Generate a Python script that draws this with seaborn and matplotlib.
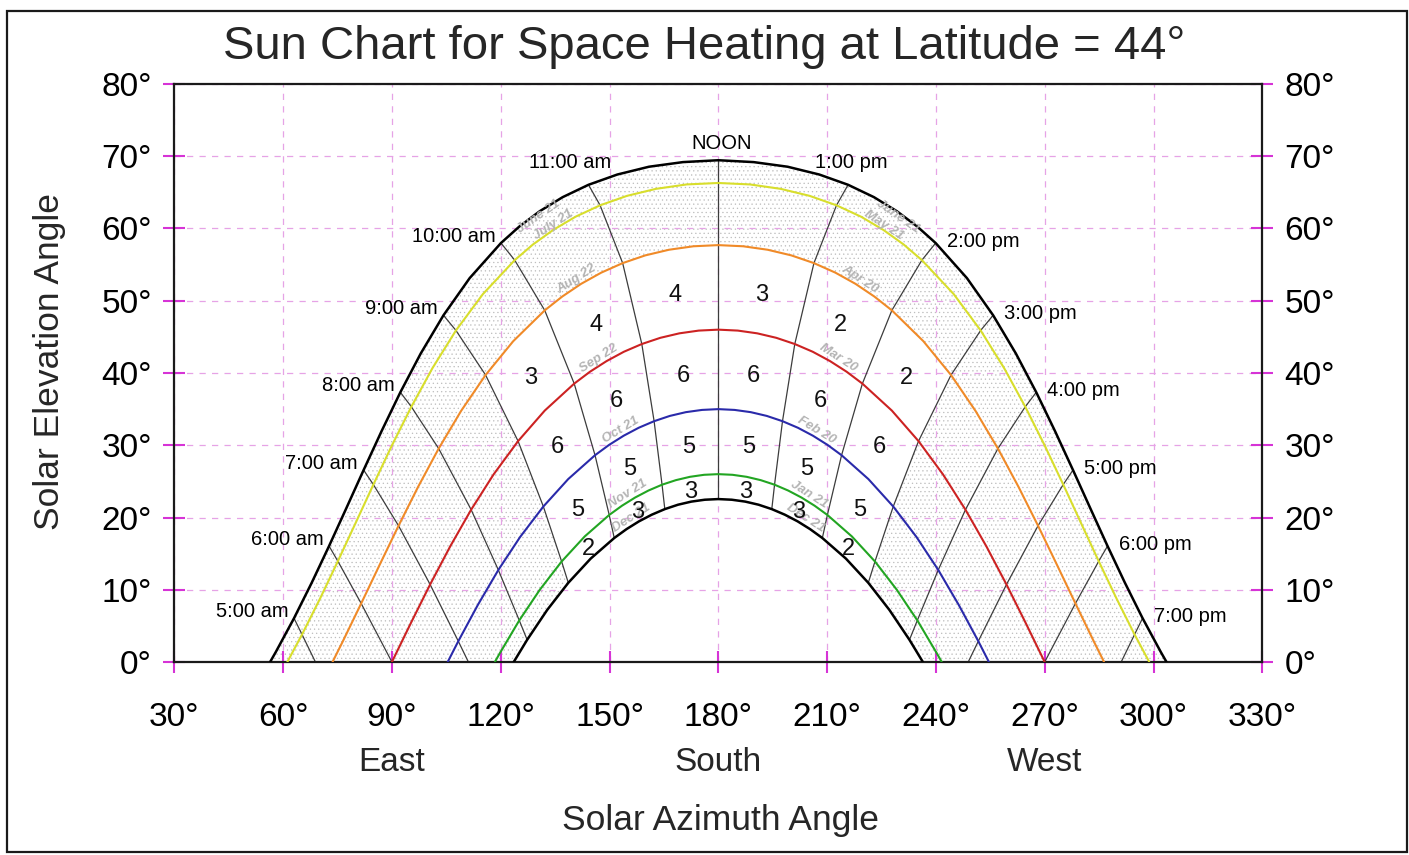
import numpy as np
import pandas as pd
import matplotlib
matplotlib.use('Agg')
import matplotlib.pyplot as plt
import matplotlib.transforms as mtransforms
from matplotlib.patches import Rectangle
import seaborn as sns

sns.set_theme(style='white')
plt.rcParams['font.family'] = ['Liberation Sans', 'DejaVu Sans']
plt.rcParams['hatch.linewidth'] = 0.4

N = None

# solar time (hours): half hours, quarter hours around noon
times = [4.5, 5.0, 5.5, 6.0, 6.5, 7.0, 7.5, 8.0, 8.5, 9.0, 9.5,
         10.0, 10.25, 10.5, 10.75, 11.0, 11.25, 11.5, 11.75, 12.0,
         12.25, 12.5, 12.75, 13.0, 13.25, 13.5, 13.75, 14.0,
         14.5, 15.0, 15.5, 16.0, 16.5, 17.0, 17.5, 18.0, 18.5, 19.0, 19.5]

# sun position (azimuth, elevation) for each date curve
az_jun = [57.97, 63.01, 67.89, 72.67, 77.41, 82.20, 87.14, 92.33, 97.95, 104.22, 111.44,
          120.07, 125.11, 130.75, 137.09, 144.21, 152.15, 160.89, 170.26, 180.0,
          189.74, 199.11, 207.85, 215.79, 222.91, 229.25, 234.89, 239.93,
          248.56, 255.78, 262.05, 267.67, 272.86, 277.80, 282.59, 287.33, 292.11, 296.99, 302.03]
el_jun = [1.37, 6.06, 10.97, 16.05, 21.26, 26.57, 31.94, 37.33, 42.70, 47.99, 53.13,
          57.99, 60.26, 62.39, 64.34, 66.05, 67.47, 68.55, 69.19, 69.45,
          69.19, 68.55, 67.47, 66.05, 64.34, 62.39, 60.26, 57.99,
          53.13, 47.99, 42.70, 37.33, 31.94, 26.57, 21.26, 16.05, 10.97, 6.06, 1.37]

az_jul = [N, 65.22, 70.21, 75.10, 79.97, 84.89, 89.98, 95.36, 101.18, 107.66, 115.09,
          123.86, 128.90, 134.47, 140.63, 147.41, 154.83, 162.83, 171.29, 180.0,
          188.71, 197.17, 205.17, 212.59, 219.37, 225.53, 231.10, 236.14,
          244.91, 252.34, 258.82, 264.64, 270.02, 275.11, 280.03, 284.90, 289.79, 294.78, N]
el_jul = [N, 3.81, 8.80, 13.95, 19.21, 24.56, 29.95, 35.33, 40.67, 45.89, 50.92,
          55.62, 57.79, 59.80, 61.63, 63.21, 64.52, 65.49, 66.10, 66.30,
          66.10, 65.49, 64.52, 63.21, 61.63, 59.80, 57.79, 55.62,
          50.92, 45.89, 40.67, 35.33, 29.95, 24.56, 19.21, 13.95, 8.80, 3.81, N]

az_aug = [N, N, 76.41, 81.53, 86.63, 91.83, 97.21, 102.90, 109.05, 115.83, 123.45,
          132.14, 136.99, 142.17, 147.72, 153.63, 159.87, 166.40, 173.15, 180.0,
          186.85, 193.60, 200.13, 206.37, 212.28, 217.83, 223.01, 227.86,
          236.55, 244.17, 250.95, 257.10, 262.79, 268.17, 273.37, 278.47, 283.59, N, N]
el_aug = [N, N, 2.80, 8.10, 13.46, 18.86, 24.23, 29.54, 34.73, 39.72, 44.40,
          48.67, 50.59, 52.34, 53.89, 55.21, 56.28, 57.06, 57.54, 57.70,
          57.54, 57.06, 56.28, 55.21, 53.89, 52.34, 50.59, 48.67,
          44.40, 39.72, 34.73, 29.54, 24.23, 18.86, 13.46, 8.10, 2.80, N, N]

az_sep = [N, N, N, N, 95.23, 100.54, 106.05, 111.85, 118.05, 124.79, 132.15,
          140.27, 144.63, 149.20, 153.96, 158.91, 164.02, 169.27, 174.61, 180.0,
          185.39, 190.73, 195.98, 201.09, 206.04, 210.80, 215.37, 219.73,
          227.85, 235.21, 241.95, 248.15, 253.95, 259.46, 264.77, N, N, N, N]
el_sep = [N, N, N, N, 5.39, 10.73, 15.98, 21.08, 25.97, 30.57, 34.80,
          38.53, 40.18, 41.65, 42.94, 44.01, 44.87, 45.49, 45.87, 46.00,
          45.87, 45.49, 44.87, 44.01, 42.94, 41.65, 40.18, 38.53,
          34.80, 30.57, 25.97, 21.08, 15.98, 10.73, 5.39, N, N, N, N]

az_oct = [N, N, N, N, N, 108.31, 113.71, 119.35, 125.35, 131.76, 138.62,
          146.01, 149.89, 153.91, 158.05, 162.30, 166.64, 171.05, 175.51, 180.0,
          184.49, 188.95, 193.36, 197.70, 201.95, 206.09, 210.11, 213.99,
          221.38, 228.24, 234.65, 240.65, 246.29, 251.69, N, N, N, N, N]
el_oct = [N, N, N, N, N, 2.88, 7.91, 12.74, 17.30, 21.52, 25.32,
          28.62, 30.05, 31.32, 32.42, 33.33, 34.06, 34.58, 34.89, 35.00,
          34.89, 34.58, 34.06, 33.33, 32.42, 31.32, 30.05, 28.62,
          25.32, 21.52, 17.30, 12.74, 7.91, 2.88, N, N, N, N, N]

az_nov = [N, N, N, N, N, N, 119.75, 125.12, 130.80, 136.80, 143.17,
          149.92, 153.44, 157.05, 160.73, 164.49, 168.31, 172.18, 176.08, 180.0,
          183.92, 187.82, 191.69, 195.51, 199.27, 202.95, 206.56, 210.08,
          216.83, 223.20, 229.20, 234.88, 240.25, N, N, N, N, N, N]
el_nov = [N, N, N, N, N, N, 1.21, 5.76, 10.01, 13.91, 17.38,
          20.35, 21.63, 22.76, 23.73, 24.54, 25.17, 25.63, 25.91, 26.00,
          25.91, 25.63, 25.17, 24.54, 23.73, 22.76, 21.63, 20.35,
          17.38, 13.91, 10.01, 5.76, 1.21, N, N, N, N, N, N]

az_dec = [N, N, N, N, N, N, N, 127.29, 132.81, 138.64, 144.81,
          151.31, 154.69, 158.14, 161.66, 165.25, 168.89, 172.57, 176.28, 180.0,
          183.72, 187.43, 191.11, 194.75, 198.34, 201.86, 205.31, 208.69,
          215.19, 221.36, 227.19, 232.71, N, N, N, N, N, N, N]
el_dec = [N, N, N, N, N, N, N, 3.07, 7.20, 10.96, 14.31,
          17.16, 18.39, 19.47, 20.39, 21.16, 21.77, 22.20, 22.46, 22.55,
          22.46, 22.20, 21.77, 21.16, 20.39, 19.47, 18.39, 17.16,
          14.31, 10.96, 7.20, 3.07, N, N, N, N, N, N, N]

curve_names = ['Jun 21', 'Jul 21 / May 21', 'Aug 22 / Apr 20', 'Sep 22 / Mar 20',
               'Oct 21 / Feb 20', 'Nov 21 / Jan 21', 'Dec 21']
curve_az = [az_jun, az_jul, az_aug, az_sep, az_oct, az_nov, az_dec]
curve_el = [el_jun, el_jul, el_aug, el_sep, el_oct, el_nov, el_dec]
sunrise_az = [56.41, 61.16, 73.63, 90.0, 105.38, 118.39, 123.59]
sunset_az = [303.59, 298.84, 286.37, 270.0, 254.62, 241.61, 236.41]

# hour lines and where they meet the horizon
hour_marks = [5, 6, 7, 8, 9, 10, 11, 12, 13, 14, 15, 16, 17, 18, 19]
hour_labels = ['5:00 am', '6:00 am', '7:00 am', '8:00 am', '9:00 am', '10:00 am', '11:00 am', 'NOON',
               '1:00 pm', '2:00 pm', '3:00 pm', '4:00 pm', '5:00 pm', '6:00 pm', '7:00 pm']
horizon_hours = [5, 6, 7, 17, 18, 19]
horizon_az = [68.91, 90.0, 111.09, 248.91, 270.0, 291.09]

# numbers in the cells (rows: Aug/Apr-Sep/Mar ... Nov/Jan-Dec; columns 9-10 am ... 2-3 pm)
cell_hours = [9, 10, 11, 12, 13, 14, 15]
cell_values = [[3, 4, 4, 3, 2, 2],
               [6, 6, 6, 6, 6, 6],
               [5, 5, 5, 5, 5, 5],
               [2, 3, 3, 3, 3, 2]]

left_date_labels = ['June 21', 'July 21', 'Aug 22', 'Sep 22', 'Oct 21', 'Nov 21', 'Dec 21']
right_date_labels = ['June 21', 'May 21', 'Apr 20', 'Mar 20', 'Feb 20', 'Jan 21', 'Dec 21']

curve_colors = ['black', '#d8de2c', '#f08a28', '#cc2222', '#2a2aaa', '#22a522', 'black']
curve_widths = [1.8, 1.5, 1.5, 1.5, 1.5, 1.5, 1.8]
grid_color = '#e6a3e6'
tick_color = '#d633d6'


def curve_points(i):
    pts = [(a, e) for a, e in zip(curve_az[i], curve_el[i]) if a is not None]
    xs = [sunrise_az[i]] + [p[0] for p in pts] + [sunset_az[i]]
    ys = [0.0] + [p[1] for p in pts] + [0.0]
    return np.array(xs), np.array(ys)


def hour_point(i, hour):
    k = times.index(float(hour))
    if curve_az[i][k] is None:
        return None
    return curve_az[i][k], curve_el[i][k]


def hour_line(hour, first=0, last=6):
    xs, ys = [], []
    for i in range(first, last + 1):
        p = hour_point(i, hour)
        if p is not None:
            xs.append(p[0])
            ys.append(p[1])
    if hour in horizon_hours and last == 6:
        xs.append(horizon_az[horizon_hours.index(hour)])
        ys.append(0.0)
    return xs, ys


fig = plt.figure(figsize=(14.09, 8.55), dpi=100)
ax = fig.add_axes([174.3 / 1409, 1 - 662 / 855, 1088 / 1409, 578 / 855])
ax.set_xlim(30, 330)
ax.set_ylim(0, 80)

# stippled band between the June and December paths
jx, jy = curve_points(0)
dx, dy = curve_points(6)
ax.fill(np.concatenate([jx, dx[::-1]]), np.concatenate([jy, dy[::-1]]),
        facecolor='white', edgecolor='#bdbdbd', hatch='....', linewidth=0, zorder=0.1)

# clear (heating) region: Aug/Apr curve down to Dec, 9 am to 3 pm
l_x, l_y = hour_line(9, 2, 6)
r_x, r_y = hour_line(15, 2, 6)
k9, k15 = times.index(9.0), times.index(15.0)
dec_x = az_dec[k9:k15 + 1]
dec_y = el_dec[k9:k15 + 1]
aug_x = az_aug[k9:k15 + 1][::-1]
aug_y = el_aug[k9:k15 + 1][::-1]
ax.fill(l_x + dec_x + r_x[::-1] + aug_x, l_y + dec_y + r_y[::-1] + aug_y,
        facecolor='white', linewidth=0, zorder=0.2)

# hour lines
for h in hour_marks:
    xs, ys = hour_line(h)
    sns.lineplot(x=xs, y=ys, ax=ax, sort=False, estimator=None, color='#3c3c3c', lw=0.9, zorder=2)

# date curves
rows = []
for i, name in enumerate(curve_names):
    xs, ys = curve_points(i)
    for j, (x, y) in enumerate(zip(xs, ys)):
        rows.append({'curve': name, 'order': j, 'az': x, 'el': y})
df = pd.DataFrame(rows)
for i, name in enumerate(curve_names):
    sub = df[df['curve'] == name]
    sns.lineplot(data=sub, x='az', y='el', ax=ax, sort=False, estimator=None,
                 color=curve_colors[i], lw=curve_widths[i], zorder=3)

# grid, ticks, spines
ax.set_axisbelow(True)
ax.set_xticks(range(30, 331, 30))
ax.set_xticklabels([f'{v}°' for v in range(30, 331, 30)])
ax.set_yticks(range(0, 81, 10))
ax.set_yticklabels([f'{v}°' for v in range(0, 81, 10)])
ax.grid(True, color=grid_color, linestyle=(0, (5, 5)), lw=0.9)
ax.tick_params(axis='both', direction='inout', length=16, width=1.5, color=tick_color,
               labelsize=24, labelcolor='black')
ax.tick_params(axis='x', pad=21, bottom=True)
ax.tick_params(axis='y', pad=8, left=True, right=True, labelleft=True, labelright=True)
for s in ax.spines.values():
    s.set_color('#1a1a1a')
    s.set_linewidth(1.6)
ax.set_xlabel('')
ax.set_ylabel('')

# hour labels on the June path
for h, lab in zip(hour_marks, hour_labels):
    p = hour_point(0, h)
    if h < 11:
        off, ha = (-4, 5), 'right'
    elif h == 11:
        off, ha = (-13, 16), 'center'
    elif h == 12:
        off, ha = (2.5, 12), 'center'
    elif h == 13:
        off, ha = (2, 16), 'center'
    else:
        off, ha = (8, 1), 'left'
    ax.annotate(lab, p, xytext=off, textcoords='offset points', ha=ha, va='center',
                fontsize=14.5, color='black', zorder=5)

# cell numbers at the middle of each cell
for r, vals in enumerate(cell_values):
    for c, v in enumerate(vals):
        corners = [hour_point(r + 2, cell_hours[c]), hour_point(r + 2, cell_hours[c + 1]),
                   hour_point(r + 3, cell_hours[c]), hour_point(r + 3, cell_hours[c + 1])]
        cx = np.mean([p[0] for p in corners])
        cy = np.mean([p[1] for p in corners])
        ax.text(cx, cy, str(v), ha='center', va='center', fontsize=17, color='#111111', zorder=5)

# date labels along the curves
fig.canvas.draw()
left_pos = [130.5, 134.5, 141, 147, 153, 155, 156]
right_pos = [229.5, 225.5, 219, 213, 207, 205, 204]
offsets = [-0.7, 0.7, 1.1, 1.1, 1.1, 1.1, 1.1]
for i in range(7):
    xs, ys = curve_points(i)
    for labs, pos in ((left_date_labels, left_pos), (right_date_labels, right_pos)):
        a = pos[i]
        e = np.interp(a, xs, ys)
        p1 = ax.transData.transform((a - 2, np.interp(a - 2, xs, ys)))
        p2 = ax.transData.transform((a + 2, np.interp(a + 2, xs, ys)))
        rot = np.degrees(np.arctan2(p2[1] - p1[1], p2[0] - p1[0]))
        ax.text(a, e + offsets[i], labs[i], rotation=rot, rotation_mode='anchor',
                ha='center', va='center', fontsize=9.5, fontstyle='italic', fontweight='bold',
                color='#b4b4b4', zorder=4)

# compass words under the azimuth ticks
blend = mtransforms.blended_transform_factory(ax.transData, fig.transFigure)
for az, word in ((90, 'East'), (180, 'South'), (270, 'West')):
    ax.text(az, 1 - 762 / 855, word, transform=blend, ha='center', va='center', fontsize=24)

fig.text(0.5, 1 - 47 / 855, 'Sun Chart for Space Heating at Latitude = 44°',
         ha='center', va='center', fontsize=34)
fig.text(720 / 1409, 1 - 820 / 855, 'Solar Azimuth Angle', ha='center', va='center', fontsize=25.5)
fig.text(50 / 1409, 1 - 361 / 855, 'Solar Elevation Angle', ha='center', va='center',
         rotation=90, fontsize=25.5)

fig.add_artist(Rectangle((7 / 1409, 3 / 855), 1400 / 1409, 841 / 855, transform=fig.transFigure,
                         fill=False, edgecolor='#1a1a1a', lw=1.6))

fig.savefig('out.png', dpi=100)
